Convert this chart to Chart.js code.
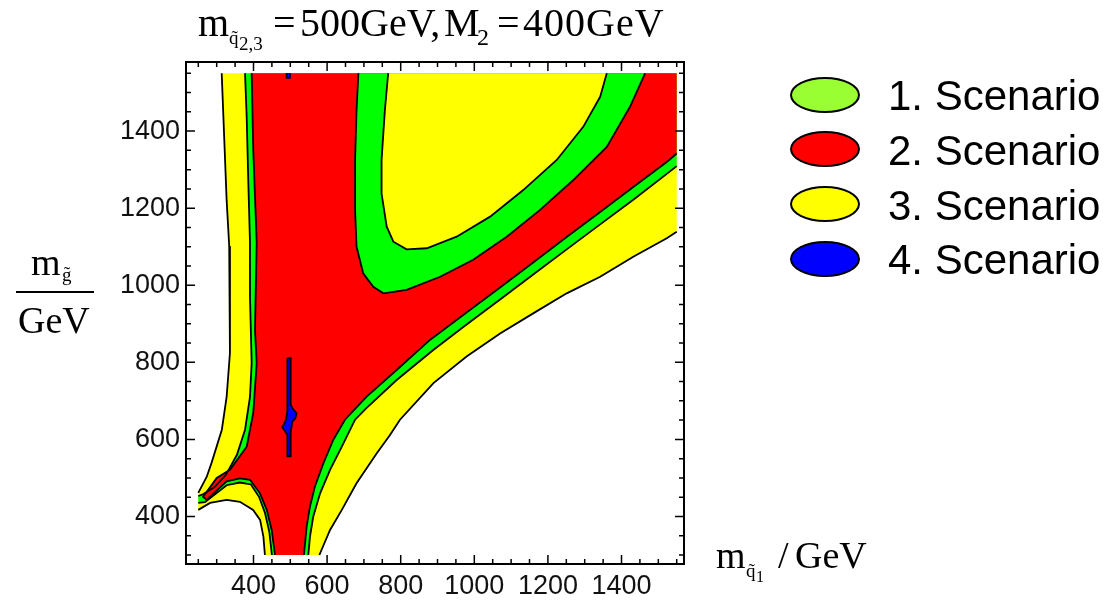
<!DOCTYPE html>
<html>
<head>
<meta charset="utf-8">
<script src="https://cdn.jsdelivr.net/npm/chart.js@4.4.0/dist/chart.umd.min.js"></script>
<style>
body { margin: 0; background: #fff; }
#wrap { position: relative; width: 1107px; height: 603px; overflow: hidden; }
#plot { position: absolute; left: 0; top: 0; }
.t { position: absolute; white-space: nowrap; font-family: 'Liberation Serif', 'Times New Roman', serif; color: #000; line-height: 1; }
.lg { position: absolute; left: 790px; width: 66px; height: 32px; border: 2px solid #000; border-radius: 50%; }
.lt { position: absolute; left: 888px; font-family: 'Liberation Sans', Arial, sans-serif; font-size: 42px; line-height: 42px; white-space: nowrap; color: #000; }
</style>
</head>
<body>
<div id="wrap">
  <canvas id="plot" width="1107" height="603"></canvas>

  <!-- title -->
  <span class="t" style="left:198px;top:3px;font-size:40px">m</span>
  <span class="t" style="left:229px;top:28px;font-size:19px">q&#771;</span>
  <span class="t" style="left:239px;top:34px;font-size:19px">2,3</span>
  <span class="t" style="left:273px;top:3px;font-size:40px">=</span>
  <span class="t" style="left:300px;top:3px;font-size:40px">500GeV,</span>
  <span class="t" style="left:444px;top:3px;font-size:40px">M</span>
  <span class="t" style="left:477px;top:25px;font-size:24px">2</span>
  <span class="t" style="left:497px;top:3px;font-size:40px">=</span>
  <span class="t" style="left:523px;top:3px;font-size:40px;letter-spacing:1px">400GeV</span>

  <!-- x axis label -->
  <span class="t" style="left:716px;top:536px;font-size:38px">m</span>
  <span class="t" style="left:746px;top:561px;font-size:19px">q&#771;</span>
  <span class="t" style="left:756px;top:569px;font-size:16px">1</span>
  <span class="t" style="left:778px;top:536px;font-size:38px">/</span>
  <span class="t" style="left:795px;top:536px;font-size:38px">GeV</span>

  <!-- y axis label -->
  <span class="t" style="left:31px;top:243px;font-size:38px">m</span>
  <span class="t" style="left:62px;top:265px;font-size:19px">g&#771;</span>
  <div style="position:absolute;left:16px;top:291px;width:78px;height:2px;background:#000"></div>
  <span class="t" style="left:18px;top:301px;font-size:38px">GeV</span>

  <!-- legend -->
  <div class="lg" style="top:77px;background:#99ff33"></div>
  <div class="lt" style="top:75px">1. Scenario</div>
  <div class="lg" style="top:131px;background:#ff0000"></div>
  <div class="lt" style="top:130px">2. Scenario</div>
  <div class="lg" style="top:186px;background:#ffff00"></div>
  <div class="lt" style="top:185px">3. Scenario</div>
  <div class="lg" style="top:241px;background:#0000ff"></div>
  <div class="lt" style="top:239px">4. Scenario</div>
</div>

<script>
// axis ranges and tick labels
const xRange = [216.6, 1569.8];
const yRange = [276.6, 1579.3];
const xTickLabels = [400, 600, 800, 1000, 1200, 1400];
const yTickLabels = [400, 600, 800, 1000, 1200, 1400];
// edges of the scanned parameter region
const dataEdge = { xLo: 250, xHi: 1550, yLo: 300, yHi: 1550 };

// region boundaries  [m_q1, m_gluino]
const yellowEdge = [[313.6,1550],[327,1221],[334,1102],[336,962],[336,824],[327,710],[314,625],[286,539],[273,503],[250,461],
    [250,417],[282,435],[327,443],[363,438],[399,417],[418,391],[427,347],[431,300],
    [579,300],[608,365],[640,417],[680,486],[735,564],[770,610],[798,651],[889,746],[979,815],[1070,875],[1160,927],[1251,979],
    [1342,1022],[1432,1074],[1523,1122],[1550,1139],[1550,1550]];

const greenEdge = [[377,1550],[381.5,1436],[386,1265],[390.5,1110],[390.5,970],[395,798],[390.5,710],[377,625],[355,560],
    [325,508],[295,477],[264,458],[250,453],[250,435],[268,437],[327,481],[363,488],[393,483],[415,451],[431,410],[443,360],
    [450,300],[549,300],[553.5,348],[562.5,400],[581,460],[608,521],[640,581],[676,651],[707.5,682],[789,754],[888.5,832],
    [979,898],[1070,963],[1160,1028],[1251,1093],[1342,1158],[1432,1222],[1523,1289],[1550,1309],[1550,1550]];

const redEdge = [[395,1550],[399.4,1351],[408.7,1110],[404,884],[408.7,798],[399.4,669],[381.5,581],[336,521],[300,500],
    [263,451],[273,443],[327,491],[363,499],[390.5,495],[417.6,460],[436,417],[449.4,365],[458.4,300],
    [537,300],[544.5,374],[553.5,426],[567,478],[590,538],[617,599],[648.6,651],[707.5,711],[789,780],[879.5,858],
    [979,929],[1070,994],[1160,1059],[1251,1125],[1342,1190],[1432,1255],[1523,1320],[1550,1342],[1550,1550]];

const islandGreenEdge = [[685,1550],[680,1454],[676,1325],[676,1195],[680,1100],[698,1031],[725.5,996],[753,979],
    [816,988],[907,1022],[997,1066],[1088,1126],[1178,1195],[1269,1273],[1360,1359],[1423,1463],[1464,1550]];

const islandYellowEdge = [[766,1550],[757,1454],[748,1325],[748,1238],[762,1152],[780,1113],[816,1093],[871,1096],
    [952,1126],[1043,1178],[1133,1247],[1224,1325],[1296,1411],[1342,1489],[1360,1550]];

const blueSpot = [[492,811],[501,811],[501,690],[508,678],[517,668],[514,655],[505,645],[503,630],[501,620],[501,556],
    [493,556],[492,612],[485,622],[478,632],[486,645],[490,660],[492,675]];

const blueTop = [[490,1550],[499,1550],[499,1538],[490,1538]];

const colYellow = '#ffff00';
const colGreen = '#00ff00';
const colRed = '#ff0000';
const colBlue = '#0000ff';

function onEdge(a, b) {
    return (a[0] === dataEdge.xLo && b[0] === dataEdge.xLo) || (a[0] === dataEdge.xHi && b[0] === dataEdge.xHi) ||
        (a[1] === dataEdge.yLo && b[1] === dataEdge.yLo) || (a[1] === dataEdge.yHi && b[1] === dataEdge.yHi);
}

// contour line = polygon border without the parts lying on the region edge
function outline(pts) {
    const out = [];
    const n = pts.length;
    for (let i = 0; i < n; i++) {
        const a = pts[i], b = pts[(i + 1) % n];
        out.push({x: a[0], y: a[1]});
        if (onEdge(a, b)) out.push({x: null, y: null});
        else if (i === n - 1) out.push({x: b[0], y: b[1]});
    }
    return out;
}

const datasets = [];
function addRegion(pts, color, order) {
    datasets.push({
        data: pts.map(p => ({x: p[0], y: p[1]})),
        showLine: true, fill: 'shape', backgroundColor: color,
        borderColor: 'transparent', borderWidth: 0, pointRadius: 0, order: order
    });
    datasets.push({
        data: outline(pts),
        showLine: true, fill: false, borderColor: '#000', backgroundColor: 'transparent',
        borderWidth: 1.8, pointRadius: 0, order: 0
    });
}

addRegion(yellowEdge, colYellow, 7);
addRegion(greenEdge, colGreen, 6);
addRegion(redEdge, colRed, 5);
addRegion(islandGreenEdge, colGreen, 4);
addRegion(islandYellowEdge, colYellow, 3);
addRegion(blueSpot, colBlue, 2);
addRegion(blueTop, colBlue, 2);

// box frame with inward ticks on all four sides
const frameTicks = {
    id: 'frameTicks',
    afterDatasetsDraw(chart) {
        const {ctx, chartArea: a, scales: {x, y}} = chart;
        ctx.save();
        ctx.strokeStyle = '#000';
        ctx.lineWidth = 1.5;
        ctx.beginPath();
        for (let v = dataEdge.xLo; v <= dataEdge.xHi; v += 50) {
            const p = x.getPixelForValue(v);
            const len = xTickLabels.includes(v) ? 9 : 5;
            ctx.moveTo(p, a.bottom); ctx.lineTo(p, a.bottom - len);
            ctx.moveTo(p, a.top); ctx.lineTo(p, a.top + len);
        }
        for (let v = dataEdge.yLo; v <= dataEdge.yHi; v += 50) {
            const p = y.getPixelForValue(v);
            const len = yTickLabels.includes(v) ? 9 : 5;
            ctx.moveTo(a.left, p); ctx.lineTo(a.left + len, p);
            ctx.moveTo(a.right, p); ctx.lineTo(a.right - len, p);
        }
        ctx.stroke();
        ctx.lineWidth = 2;
        ctx.strokeRect(a.left, a.top, a.right - a.left, a.bottom - a.top);
        ctx.restore();
    }
};

const tickFont = {family: "'Liberation Sans', Arial, sans-serif", size: 27};

new Chart(document.getElementById('plot'), {
    type: 'scatter',
    data: { datasets: datasets },
    options: {
        responsive: false,
        animation: false,
        events: [],
        layout: { padding: { left: 106, right: 423, top: 62, bottom: 9 } },
        plugins: { legend: { display: false }, tooltip: { enabled: false } },
        scales: {
            x: {
                type: 'linear', min: xRange[0], max: xRange[1],
                afterFit: s => { s.height = 30; },
                afterBuildTicks: s => { s.ticks = xTickLabels.map(v => ({value: v})); },
                grid: { display: false, drawTicks: false },
                border: { display: false },
                ticks: { font: tickFont, color: '#111', padding: 6, maxRotation: 0, autoSkip: false,
                    callback: v => String(v) }
            },
            y: {
                type: 'linear', min: yRange[0], max: yRange[1],
                afterFit: s => { s.width = 80; },
                afterBuildTicks: s => { s.ticks = yTickLabels.map(v => ({value: v})); },
                grid: { display: false, drawTicks: false },
                border: { display: false },
                ticks: { font: tickFont, color: '#111', padding: 6, autoSkip: false,
                    callback: v => String(v) }
            }
        }
    },
    plugins: [frameTicks]
});
</script>
</body>
</html>
